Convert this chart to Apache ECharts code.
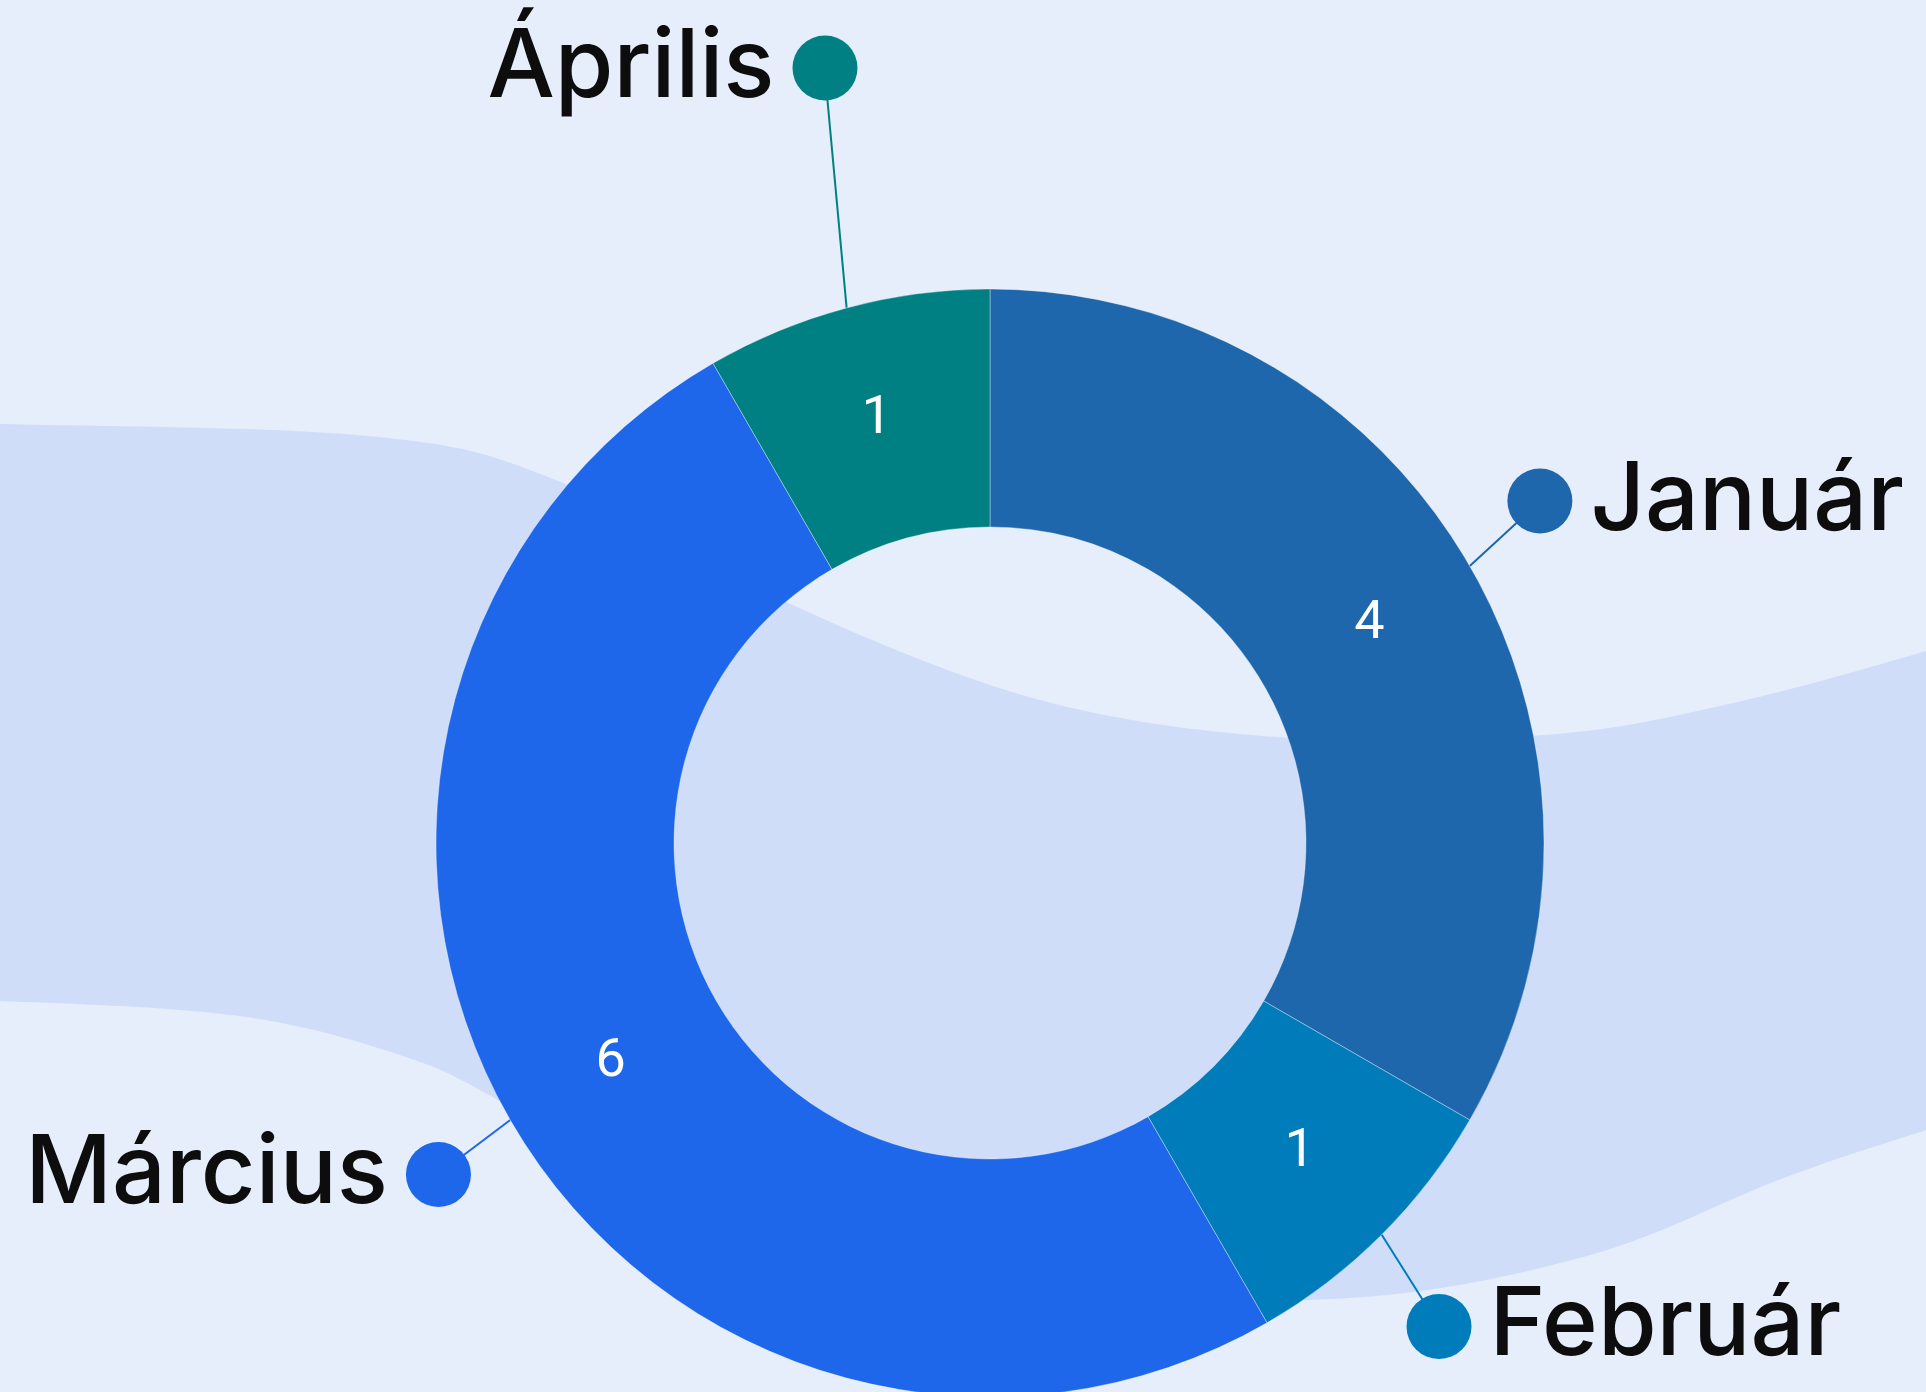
<!DOCTYPE html>
<html>
<head>
<meta charset="utf-8">
<script src="https://cdn.jsdelivr.net/npm/echarts@6/dist/echarts.min.js"></script>
<style>
  html, body { margin: 0; padding: 0; background: #e6eefc; }
  #chart { width: 1926px; height: 1392px; }
</style>
</head>
<body>
<div id="chart"></div>
<script>
// adatok
var months = ['Január', 'Február', 'Március', 'Április'];
var counts = [4, 1, 6, 1];

// megjelenés
var sliceColors = ['#1e67ad', '#007cba', '#1e66ea', '#008082'];
var lineLengths = [100, 110, 95, 240];
var labelShift = [[-16, -15], [-20, 14], [10, 7], [40, -8]];

var chartObj = echarts.init(document.getElementById('chart'));

// háttér hullám (dekoráció)
var bandTop = [[-200, 422], [0, 424], [368, 436], [553, 479], [786, 602], [1040, 700], [1290, 738], [1544, 735], [1720, 706], [1926, 651], [2150, 580]];
var bandBottom = [[2150, 1060], [1926, 1130], [1781, 1179], [1597, 1253], [1376, 1296], [1150, 1292], [900, 1235], [700, 1172], [540, 1120], [420, 1062], [246, 1017], [0, 1001], [-200, 999]];

function spline(pts) {
	var out = [];
	for (var i = 0; i < pts.length - 1; i++) {
		var p0 = pts[Math.max(i - 1, 0)], p1 = pts[i], p2 = pts[i + 1], p3 = pts[Math.min(i + 2, pts.length - 1)];
		for (var s = 0; s < 20; s++) {
			var t = s / 20, t2 = t * t, t3 = t2 * t;
			out.push([
				0.5 * (2 * p1[0] + (-p0[0] + p2[0]) * t + (2 * p0[0] - 5 * p1[0] + 4 * p2[0] - p3[0]) * t2 + (-p0[0] + 3 * p1[0] - 3 * p2[0] + p3[0]) * t3),
				0.5 * (2 * p1[1] + (-p0[1] + p2[1]) * t + (2 * p0[1] - 5 * p1[1] + 4 * p2[1] - p3[1]) * t2 + (-p0[1] + 3 * p1[1] - 3 * p2[1] + p3[1]) * t3)
			]);
		}
	}
	out.push(pts[pts.length - 1]);
	return out;
}

var pieData = [], valueData = [];
for (var i = 0; i < months.length; i++) {
	var left = (i === 2 || i === 3);
	pieData.push({
		name: months[i],
		value: counts[i],
		itemStyle: { color: sliceColors[i] },
		labelLine: { length: lineLengths[i], length2: 0, lineStyle: { color: sliceColors[i], width: 2 } },
		label: {
			formatter: left ? '{l|{b}}{d' + i + '|}' : '{d' + i + '|}{r|{b}}'
		}
	});
	valueData.push({ name: months[i], value: counts[i] });
}

var rich = {
	r: { fontFamily: 'Inter', fontWeight: 500, fontSize: 95, color: '#0d0d0d', padding: [0, 0, 0, 18], lineHeight: 110 },
	l: { fontFamily: 'Inter', fontWeight: 500, fontSize: 95, color: '#0d0d0d', padding: [0, 18, 0, 0], lineHeight: 110 }
};
for (var i = 0; i < sliceColors.length; i++) {
	rich['d' + i] = { width: 65, height: 65, borderRadius: 33, backgroundColor: sliceColors[i] };
}

var option = {
	backgroundColor: '#e6eefc',
	animation: false,
	graphic: [
		{
			type: 'polygon',
			z: -10,
			silent: true,
			shape: { points: spline(bandTop).concat(spline(bandBottom)) },
			style: { fill: '#cfddf8' }
		}
	],
	series: [
		{
			name: 'hónap',
			type: 'pie',
			center: [990, 843],
			radius: [316, 554],
			startAngle: 90,
			clockwise: true,
			avoidLabelOverlap: false,
			silent: true,
			itemStyle: { borderColor: 'rgba(255,255,255,0.35)', borderWidth: 1 },
			label: {
				show: true,
				position: 'outside',
				distanceToLabelLine: -33,
				rich: rich
			},
			labelLine: { show: true, smooth: false },
			labelLayout: function (params) {
				var s = labelShift[params.dataIndex];
				var res = { dx: s[0], dy: s[1] };
				var pts = params.labelLinePoints;
				if (pts && pts.length) {
					var moved = [];
					for (var k = 0; k < pts.length; k++) {
						moved.push(k === 0 ? [pts[k][0], pts[k][1]] : [pts[k][0] + s[0], pts[k][1] + s[1]]);
					}
					res.labelLinePoints = moved;
				}
				return res;
			},
			data: pieData
		},
		{
			name: 'érték',
			type: 'pie',
			center: [990, 843],
			radius: [316, 554],
			startAngle: 90,
			clockwise: true,
			silent: true,
			itemStyle: { color: 'transparent', borderWidth: 0 },
			label: {
				show: true,
				position: 'inside',
				formatter: '{c}',
				color: '#ffffff',
				fontFamily: 'Roboto',
				fontSize: 54
			},
			labelLine: { show: false },
			data: valueData
		}
	]
};

chartObj.setOption(option);
</script>
</body>
</html>
